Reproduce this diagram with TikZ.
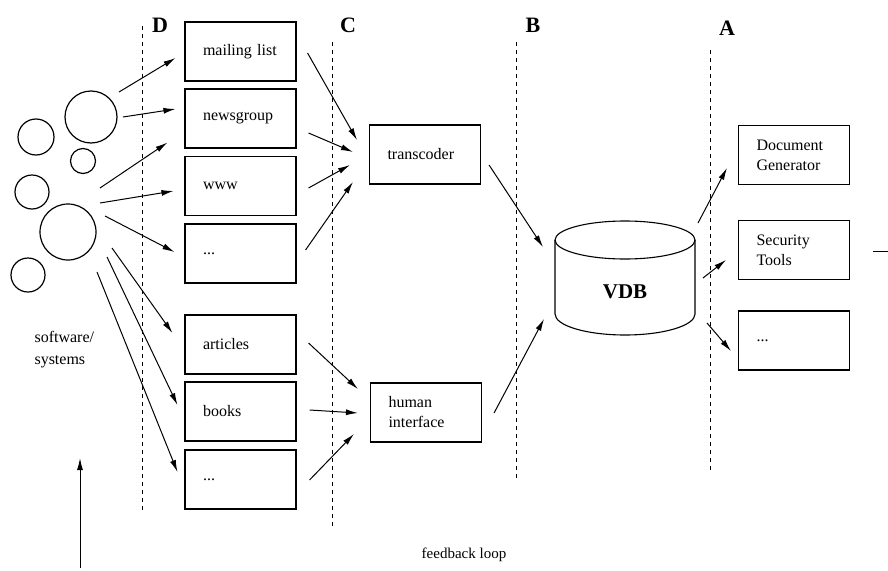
\documentclass[tikz,border=0pt]{standalone}
\usepackage{fontspec}
\setmainfont{Liberation Serif}
\usetikzlibrary{arrows.meta}

\tikzset{
  box/.style={draw, line width=1.1pt, text width=75pt, inner xsep=18pt,
    minimum height=59pt, align=left, font=\fontsize{16}{20}\selectfont},
  blob/.style={draw, circle, line width=1.2pt, inner sep=0pt},
  layer/.style={dashed, line width=1pt, dash pattern=on 4pt off 4pt},
  layername/.style={font=\fontsize{22}{22}\selectfont\bfseries},
  flow/.style={line width=1pt, -{Latex[length=12pt,width=6pt]}}
}

\begin{document}
\begin{tikzpicture}[x=1pt, y=-1pt]
\useasboundingbox (0,0) rectangle (888,570);

% Define the layers
\draw[layer] (142,26) -- (142,512);
\draw[layer] (332,42) -- (332,528);
\draw[layer] (516,42) -- (516,480);
\draw[layer] (710,50) -- (710,473);
\node[layername] (D) at (160,25) {D};
\node[layername] (C) at (348,25) {C};
\node[layername] (B) at (533,25) {B};
\node[layername] (A) at (727,28) {A};

% Software systems
\node[blob, minimum size=52pt] (c1) at (91,117) {};
\node[blob, minimum size=36pt] (c2) at (36,137) {};
\node[blob, minimum size=25pt] (c3) at (83,161) {};
\node[blob, minimum size=34pt] (c4) at (32,192) {};
\node[blob, minimum size=56pt] (c5) at (68,232) {};
\node[blob, minimum size=34pt] (c6) at (28,275) {};
\node[anchor=west, align=left, font=\fontsize{16}{22}\selectfont] (soft) at (31,350) {software/\\systems};

% Sources
\node[box] (mail) at (240.5,51.5) {mailing list};
\node[box] (news) at (240.5,118.5) {newsgroup};
\node[box] (www) at (240.5,186) {www};
\node[box] (etc1) at (240.5,253.5) {...};
\node[box] (art) at (240.5,344.5) {articles};
\node[box] (books) at (240.5,411.5) {books};
\node[box] (etc2) at (240.5,479.5) {...};

% Input
\node[box] (trans) at (425,154.5) {transcoder};
\node[box] (human) at (426,412.5) {human\\interface};

% Database
\draw[line width=1.1pt] (555,240) -- (555,314) arc (180:0:70 and 21) -- (695,240);
\draw[line width=1.1pt] (625,240) ellipse (70 and 19);
\coordinate (vdb) at (625,277);
\node[font=\fontsize{21}{21}\selectfont\bfseries] (vdbname) at (625,292) {VDB};

% Output
\node[box] (doc) at (794,155) {Document\\Generator};
\node[box] (sec) at (794,250) {Security\\Tools};
\node[box] (etc3) at (794,340.5) {...};

% Arrows from the systems
\draw[flow] ([shift={(28,-25)}]c1.center) -- ([shift={(-9,6.5)}]mail.west);
\draw[flow] ([shift={(32,0)}]c1.center) -- ([shift={(-9,-9.5)}]news.west);
\draw[flow] ([shift={(32,-44)}]c5.center) -- ([shift={(-17,-6)}]news.south west);
\draw[flow] ([shift={(32,-29)}]c5.center) -- ([shift={(-11,5)}]www.west);
\draw[flow] ([shift={(37,-16)}]c5.center) -- ([shift={(-10,-1.5)}]etc1.west);
\draw[flow] ([shift={(44,16)}]c5.center) -- ([shift={(-12,-11.5)}]art.west);
\draw[flow] ([shift={(39,25)}]c5.center) -- ([shift={(-7,-6.5)}]books.west);
\draw[flow] ([shift={(29,40)}]c5.center) -- ([shift={(-7,-7.5)}]etc2.west);

% Arrows to the input
\draw[flow] ([shift={(11,1.5)}]mail.east) -- ([shift={(-12,-14.5)}]trans.west);
\draw[flow] ([shift={(12,14.5)}]news.east) -- ([shift={(-16,-2.5)}]trans.west);
\draw[flow] ([shift={(12,2)}]www.east) -- ([shift={(-19,10.5)}]trans.west);
\draw[flow] ([shift={(9,-3.5)}]etc1.east) -- ([shift={(-16,27.5)}]trans.west);
\draw[flow] ([shift={(12,-1.5)}]art.east) -- ([shift={(-12,-23.5)}]human.west);
\draw[flow] ([shift={(13,-1.5)}]books.east) -- ([shift={(-12,0.5)}]human.west);
\draw[flow] ([shift={(13,0.5)}]etc2.east) -- ([shift={(-16,21.5)}]human.west);

% Arrows to and from the VDB
\draw[flow] ([shift={(8,10.5)}]trans.east) -- ([shift={(-82,-30)}]vdb);
\draw[flow] ([shift={(12,0.5)}]human.east) -- ([shift={(-81,42)}]vdb);
\draw[flow] ([shift={(73,-54)}]vdb) -- ([shift={(-11,13)}]doc.west);
\draw[flow] ([shift={(78,1)}]vdb) -- ([shift={(-12,10)}]sec.west);
\draw[flow] ([shift={(82,46)}]vdb) -- ([shift={(-7,10.5)}]etc3.west);

% stub at the right edge
\coordinate (stub) at (873,251);
\draw[line width=1pt] (stub) -- ++(15,0);

% feedback loop
\coordinate (fbbot) at (80,568);
\coordinate (fbtop) at (80,458);
\draw[flow] (fbbot) -- (fbtop);
\node[font=\fontsize{15}{15}\selectfont] (fb) at (464,555) {feedback loop};

\end{tikzpicture}
\end{document}
